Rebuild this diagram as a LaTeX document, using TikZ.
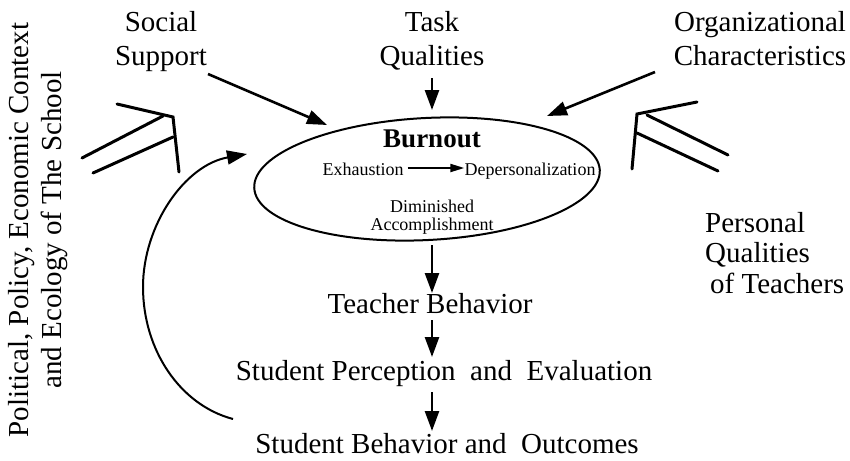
\documentclass[tikz,border=0pt]{standalone}
\usepackage{fontspec}
\setmainfont{Liberation Serif}
\usetikzlibrary{arrows.meta,shapes.geometric}
\begin{document}
\begin{tikzpicture}[x=1pt,y=-1pt,
  lbl/.style={anchor=base,inner sep=0pt,font=\fontsize{29}{33}\selectfont},
  small/.style={anchor=base,inner sep=0pt,font=\fontsize{18}{18}\selectfont},
  arr/.style={line width=2.6pt,-{Triangle[length=20pt,width=14pt]}},
  smallarr/.style={line width=2pt,-{Triangle[length=14pt,width=8pt]}},
  bar/.style={line width=3pt,line cap=round,line join=miter}]
\useasboundingbox (0,0) rectangle (850,460);

% outside influences
\node[lbl] (social1) at (161,32) {Social};
\node[lbl] (social2) at (161,65) {Support};
\node[lbl] (task1) at (432,32) {Task};
\node[lbl] (task2) at (432,65) {Qualities};
\node[lbl] (org1) at (760,32) {Organizational};
\node[lbl] (org2) at (760,65) {Characteristics};
\node[lbl,anchor=base west] (pers1) at (705,232) {Personal};
\node[lbl,anchor=base west] (pers2) at (705,262) {Qualities};
\node[lbl,anchor=base west] (pers3) at (710,293) {of Teachers};
\node[rotate=90,align=center,inner sep=0pt,font=\fontsize{29}{33}\selectfont] (context)
  at (38,230) {Political, Policy, Economic Context\\and Ecology of The School};

% burnout
\node[draw,ellipse,line width=2pt,minimum width=346pt,minimum height=122pt,rotate=3] (burnout) at (427,179) {};
\node[anchor=base,inner sep=0pt,font=\fontsize{27}{30}\selectfont\bfseries] (bt) at (432,147) {Burnout};
\node[small] (exh) at (363,175) {Exhaustion};
\node[small] (dep) at (530,175) {Depersonalization};
\node[small,align=center,anchor=center] (dim) at (432,217) {Diminished\\Accomplishment};
\draw[smallarr] (exh.east |- 0,168) ++(4,0) coordinate (ea) -- (dep.west |- 0,168);

% outcome chain
\node[lbl] (teach) at (430,313) {Teacher Behavior};
\node[lbl] (perc) at (444,380) {Student Perception\ \ and\ \ Evaluation};
\node[lbl] (outc) at (447,453) {Student Behavior and\ \ Outcomes};

% arrows into burnout
\coordinate (sa) at (208,74);  \coordinate (sb) at (327,125);
\coordinate (ta) at (432,78);  \coordinate (tb) at (432,110);
\coordinate (oa) at (655,72);  \coordinate (ob) at (547,116);
\draw[arr] (sa) -- (sb);
\draw[arr] (ta) -- (tb);
\draw[arr] (oa) -- (ob);

% arrows down the chain
\coordinate (c1) at (432,245); \coordinate (c2) at (432,293);
\coordinate (c3) at (432,320); \coordinate (c4) at (432,357);
\coordinate (c5) at (432,392); \coordinate (c6) at (432,431);
\draw[arr] (c1) -- (c2);
\draw[arr] (c3) -- (c4);
\draw[arr] (c5) -- (c6);

% feedback loop
\coordinate (fa) at (233,419);
\coordinate (fm) at (143,287);
\coordinate (fb) at (247,154);
\draw[arr,line width=2pt] (fa) .. controls (180,405) and (143,350) .. (fm)
  .. controls (143,225) and (185,165) .. (fb);

% broad arrows of the surrounding context
\draw[bar] (117,104) -- (173,117) -- (179,172);
\draw[bar] (82,158) -- (163,116);
\draw[bar] (93,173) -- (173,137);
\draw[bar] (697,102) -- (637,114) -- (632,169);
\draw[bar] (647,115) -- (728,155);
\draw[bar] (637,133) -- (718,171);
\end{tikzpicture}
\end{document}
